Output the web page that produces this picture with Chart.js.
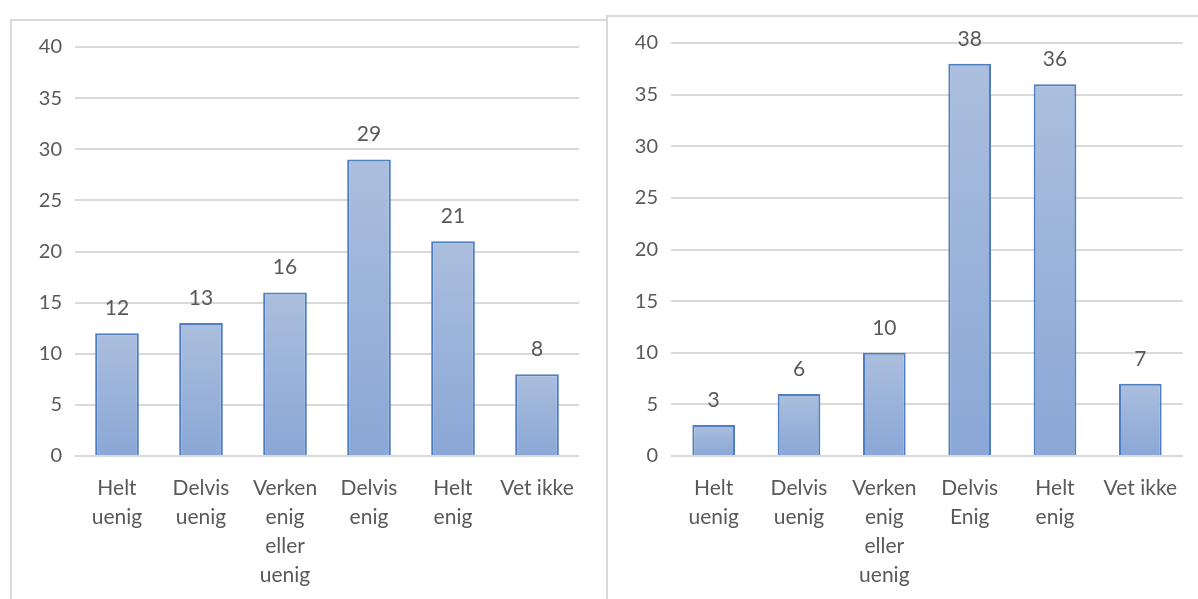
<!DOCTYPE html>
<html><head><meta charset="utf-8">
<script src="https://cdn.jsdelivr.net/npm/chart.js@4/dist/chart.umd.min.js"></script>
<style>
html,body{margin:0;padding:0;background:#fff;width:1198px;height:599px;overflow:hidden;}
.box{position:absolute;border:2px solid #d9d9d9;background:#fff;box-sizing:border-box;}
#b1{left:10px;top:19px;width:599px;height:600px;}
#b2{left:606px;top:15px;width:600px;height:600px;}
canvas{position:absolute;}
</style></head><body>
<div class="box" id="b1"></div>
<div class="box" id="b2"></div>
<canvas id="c1" style="left:12px;top:21px;" width="595" height="578"></canvas>
<canvas id="c2" style="left:608px;top:17px;" width="590" height="582"></canvas>
<script>
const categoriesLeft = [["Helt","uenig"],["Delvis","uenig"],["Verken","enig","eller","uenig"],["Delvis","enig"],["Helt","enig"],["Vet ikke"]];
const valuesLeft = [12, 13, 16, 29, 21, 8];
const categoriesRight = [["Helt","uenig"],["Delvis","uenig"],["Verken","enig","eller","uenig"],["Delvis","Enig"],["Helt","enig"],["Vet ikke"]];
const valuesRight = [3, 6, 10, 38, 36, 7];
const yTicks = [0, 5, 10, 15, 20, 25, 30, 35, 40];

const FONT = "Lato, 'Open Sans', sans-serif";
const GRAY = '#595959';

const labelPlugin = {
  id: 'valLabels',
  afterDatasetsDraw(chart) {
    const ctx = chart.ctx;
    const meta = chart.getDatasetMeta(0);
    ctx.save();
    ctx.font = '21px ' + FONT;
    ctx.fillStyle = GRAY;
    ctx.textAlign = 'center';
    ctx.textBaseline = 'alphabetic';
    meta.data.forEach((bar, i) => {
      ctx.fillText(String(chart.data.datasets[0].data[i]), bar.x, bar.y - 18);
    });
    ctx.restore();
  }
};

function gradFill(context) {
  const chart = context.chart;
  const ca = chart.chartArea;
  if (!ca || context.dataIndex === undefined) return '#9fb5da';
  const y = chart.scales.y;
  const top = y.getPixelForValue(context.raw);
  const bot = y.getPixelForValue(0);
  const g = chart.ctx.createLinearGradient(0, top, 0, bot);
  g.addColorStop(0, '#abbedd');
  g.addColorStop(1, '#8aa7d6');
  return g;
}

function makeChart(id, cats, vals, padTop, padRight, yWidth, xHeight, barPct) {
  new Chart(document.getElementById(id), {
    type: 'bar',
    data: {
      labels: cats,
      datasets: [{
        data: vals,
        backgroundColor: gradFill,
        borderColor: '#4f7fc0',
        borderWidth: 2,
        borderSkipped: 'bottom',
        categoryPercentage: 1,
        barPercentage: barPct
      }]
    },
    options: {
      responsive: false,
      animation: false,
      devicePixelRatio: 1,
      layout: { padding: { top: padTop, right: padRight, left: 0, bottom: 0 } },
      plugins: { legend: { display: false }, tooltip: { enabled: false } },
      scales: {
        x: {
          grid: { display: false, drawTicks: false },
          border: { display: false },
          ticks: { color: GRAY, font: { family: FONT, size: 21, lineHeight: 1.38 }, padding: 18, maxRotation: 0, autoSkip: false },
          afterFit(s) { s.height = xHeight; }
        },
        y: {
          min: 0, max: 40,
          afterBuildTicks(s) { s.ticks = yTicks.map(v => ({ value: v })); },
          grid: { color: '#d9d9d9', lineWidth: 2, drawTicks: false },
          border: { display: false },
          ticks: { color: GRAY, font: { family: FONT, size: 20 }, padding: 13 },
          afterFit(s) { s.width = yWidth; }
        }
      }
    },
    plugins: [labelPlugin]
  });
}

makeChart('c1', categoriesLeft, valuesLeft, 26, 28, 63, 143, 0.52);
makeChart('c2', categoriesRight, valuesRight, 26, 15, 63, 143, 0.5);
</script>
</body></html>
